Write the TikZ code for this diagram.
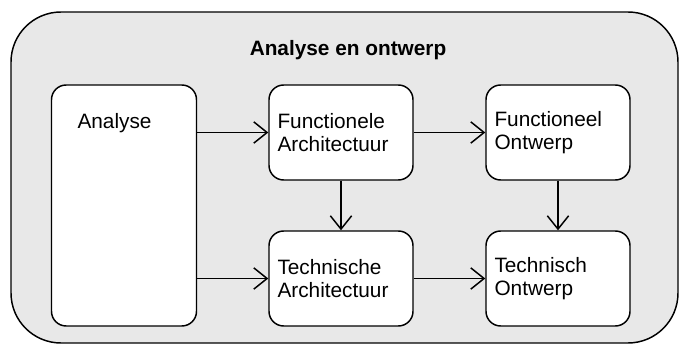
\documentclass[tikz,border=0pt]{standalone}
\usepackage{fontspec}
\setmainfont{Liberation Sans}
\usetikzlibrary{arrows.meta}
\definecolor{achtergrond}{HTML}{E8E8E8}
\tikzstyle{kader} = [draw=black, fill=achtergrond, line width=1.1pt, rounded corners=37.5pt]
\tikzstyle{kop} = [font=\fontsize{15.6}{17.5}\selectfont\bfseries]
\tikzstyle{blok} = [rectangle, rounded corners=11pt, draw=black, fill=white, line width=1.1pt, minimum width=108pt, minimum height=71.25pt, text width=95.25pt, inner xsep=6.375pt, align=left, font=\fontsize{15.6}{17.5}\selectfont]
\tikzstyle{pijl} = [-{Straight Barb[length=10pt,width=16pt]}, line width=1.1pt]

\begin{document}
\begin{tikzpicture}[x=0.75pt,y=-0.75pt,node distance=109.5pt]
		\useasboundingbox (0,0) rectangle (679,345);
		\draw[kader] (11,12) rectangle (678,343);
		\node[kop](titel) at (348,50){Analyse en ontwerp};
		
		\node[blok](fa) at (341,132.5){Functionele\\Architectuur};
		\node[blok,right of=fa,xshift=53.25pt](fo){Functioneel\\Ontwerp};
		\node[blok,below of=fa](ta){Technische\\Architectuur};
		\node[blok,right of=ta,xshift=53.25pt](to){Technisch\\Ontwerp};
		\node[blok,left of=fa,xshift=-53.25pt,yshift=-54.75pt,minimum height=180.75pt,inner ysep=0pt,inner xsep=19.5pt,text width=69.75pt,text height=33pt,text depth=147.75pt](an){Analyse};
		
		\draw[pijl] (an.east |- fa.west)--(fa.west);
		\draw[pijl] (an.east |- ta.west)--(ta.west);
		\draw[pijl] (fa)--(fo);
		\draw[pijl] (ta)--(to);
		\draw[pijl] (fa)--(ta);
		\draw[pijl] (fo)--(to);
		\end{tikzpicture}
\end{document}
